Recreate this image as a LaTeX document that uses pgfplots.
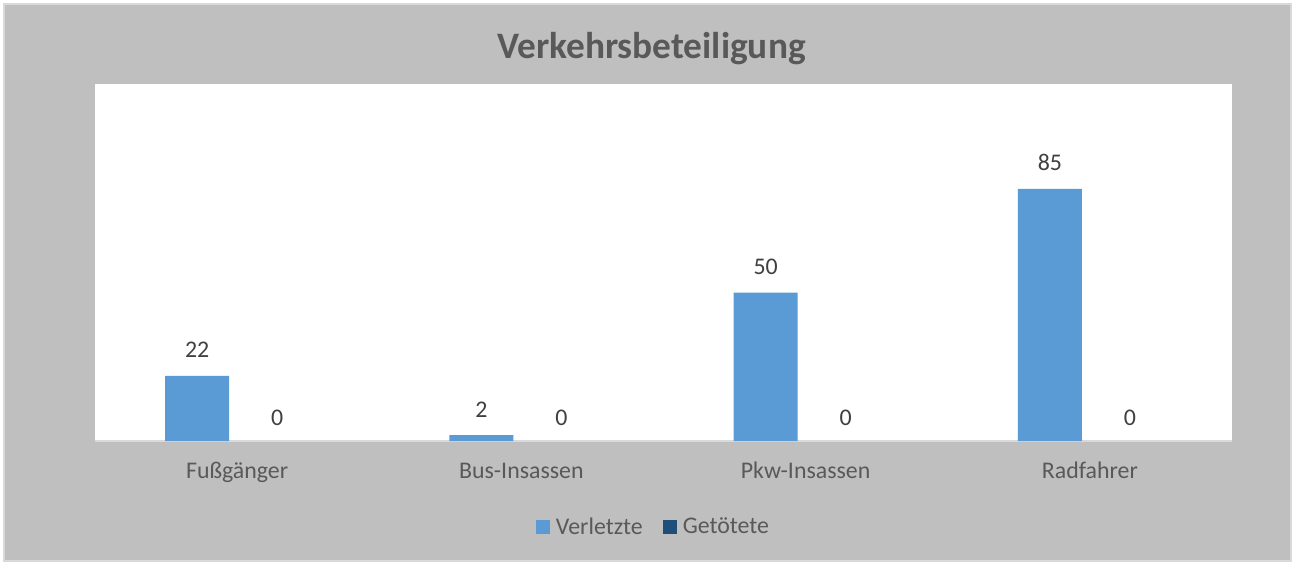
\documentclass[border=0pt]{standalone}
\usepackage{pgfplots}
\pgfplotsset{compat=1.18}
\usepackage{fontspec}
\setmainfont{Carlito}
\definecolor{bgray}{HTML}{BFBFBF}
\definecolor{lgray}{HTML}{D9D9D9}
\definecolor{txt}{HTML}{595959}
\definecolor{lbl}{HTML}{404040}
\definecolor{cVer}{HTML}{5B9BD5}
\definecolor{cGet}{HTML}{1F4E79}
\begin{document}
\begin{tikzpicture}
\useasboundingbox (0,0) rectangle (971.25pt,423.75pt);
\fill[white] (0,0) rectangle (971.25pt,423.75pt);
\draw[lgray, line width=1.5pt, fill=bgray] (3pt,3pt) rectangle (968.25pt,420.75pt);
\node[font=\fontsize{28pt}{32pt}\selectfont\bfseries, text=txt, anchor=base] at (488.6pt,379.5pt) {Verkehrsbeteiligung};
\begin{axis}[
  at={(71.25pt,93pt)}, anchor=south west,
  scale only axis, width=852.75pt, height=267.75pt,
  axis background/.style={fill=white},
  xmin=-0.5, xmax=3.5, ymin=0, ymax=120.4,
  axis x line*=bottom, axis y line=none,
  x axis line style={lgray, line width=1.5pt},
  xtick={0,1,2,3},
  xticklabels={Fußgänger,Bus-Insassen,Pkw-Insassen,Radfahrer},
  major tick length=0pt,
  xticklabel style={font=\fontsize{17.9pt}{20pt}\selectfont, text=txt, anchor=base, yshift=-27.75pt},
  ybar, bar width=48pt,
  /pgf/number format/assume math mode=true,
  nodes near coords,
  every node near coord/.append style={font=\fontsize{17.9pt}{20pt}\selectfont, text=lbl, anchor=base},
  legend style={draw=none, fill=none, at={(0.4915,-0.241)}, anchor=center,
    font=\fontsize{17.9pt}{20pt}\selectfont, text=txt, legend columns=2,
    /tikz/every odd column/.append style={column sep=2.5pt},
    /tikz/every even column/.append style={column sep=13pt}},
]
\addplot[fill=cVer, draw=none, bar shift=-30pt, every node near coord/.append style={yshift=13.5pt},
  legend image code/.code={\fill[cVer] (0pt,-5.25pt) rectangle (10.5pt,5.25pt);}]
  coordinates {(0,22) (1,2) (2,50) (3,85)};
\addplot[fill=none, draw=none, bar shift=30pt, every node near coord/.append style={yshift=12pt},
  legend image code/.code={\fill[cGet] (0pt,-5.25pt) rectangle (10.5pt,5.25pt);}]
  coordinates {(0,0) (1,0) (2,0) (3,0)};
\legend{Verletzte, Getötete}
\end{axis}
\end{tikzpicture}
\end{document}
